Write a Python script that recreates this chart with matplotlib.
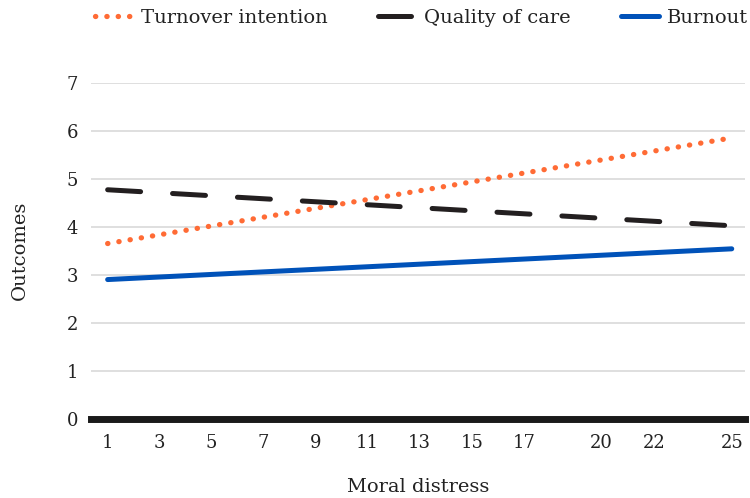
import matplotlib.pyplot as plt

plt.rcParams['font.family'] = ['DejaVu Serif']

# moral distress values shown on the axis
distress = [1, 3, 5, 7, 9, 11, 13, 15, 17, 20, 22, 25]
# end points of the fitted lines (at distress 1 and 25)
line_x = [1, 25]
turnover = [3.65, 5.85]
quality = [4.77, 4.02]
burnout = [2.90, 3.54]

fig = plt.figure(figsize=(7.5, 4.98), dpi=100)
ax = fig.add_axes([0.121, 0.159, 0.872, 0.675])

ax.plot(line_x, turnover, color='#ff6b35', lw=3.8, linestyle=(0, (0.05, 2.1)),
        dash_capstyle='round', label='Turnover intention')
ax.plot(line_x, quality, color='#231f20', lw=3.6, linestyle=(0, (6.6, 6.4)),
        dash_capstyle='round', label='Quality of care')
ax.plot(line_x, burnout, color='#0052b9', lw=3.6, solid_capstyle='round',
        label='Burnout')

ax.set_xlim(0.35, 25.5)
ax.set_ylim(0, 7)
ax.set_xticks(distress)
ax.set_yticks(range(0, 8))
ax.tick_params(length=0, labelsize=13, colors='#222222')
ax.tick_params(axis='x', pad=11)
ax.tick_params(axis='y', pad=9)
ax.grid(axis='y', color='#d9d9d9', lw=1.2)
ax.set_axisbelow(True)
for s in ['top', 'right', 'left']:
    ax.spines[s].set_visible(False)
ax.spines['bottom'].set_linewidth(5)
ax.spines['bottom'].set_color('#1a1a1a')

ax.set_xlabel('Moral distress', fontsize=14, color='#222222', labelpad=19)
ax.set_ylabel('Outcomes', fontsize=14, color='#222222', labelpad=27)

leg = fig.legend(loc='upper center', bbox_to_anchor=(0.562, 1.018), ncol=3,
                 frameon=False, fontsize=14, handlelength=2.0,
                 columnspacing=2.55, handletextpad=0.4)
for t in leg.get_texts():
    t.set_color('#222222')

fig.savefig('out.png', dpi=100)
